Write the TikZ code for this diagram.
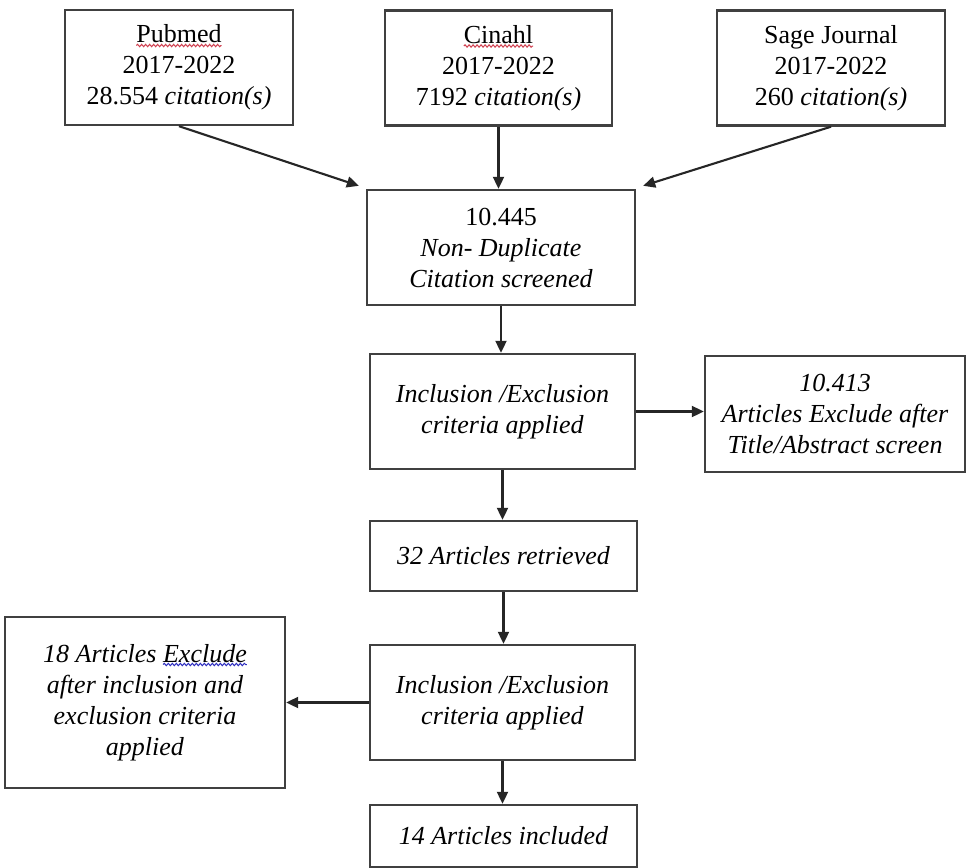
\documentclass[tikz,border=0pt]{standalone}
\usepackage{fontspec}
\setmainfont{Liberation Serif}
\usetikzlibrary{arrows.meta,calc,decorations.pathmorphing}
\definecolor{boxgray}{HTML}{404040}
\definecolor{squigred}{HTML}{D04050}
\definecolor{squigblue}{HTML}{3030C0}
\newcommand\bigf{\fontsize{26}{31}\selectfont}
\newlength\lenpub
\newlength\lencin
\newlength\lenexw
\newlength\lenexl
\begin{document}
\settowidth{\lenpub}{\bigf Pubmed}%
\settowidth{\lencin}{\bigf Cinahl}%
\settowidth{\lenexw}{\bigf\itshape Exclude}%
\settowidth{\lenexl}{\bigf\itshape 18 Articles Exclude}%
\begin{tikzpicture}[x=1pt,y=-1pt,
  box/.style={draw=boxgray, line width=2.4pt, fill=white, align=center, inner sep=0pt,
    font=\bigf},
  arr/.style={-{Triangle[length=12pt,width=11pt]}, line width=2.1pt, black!85},
  squig/.style={line width=1pt, decorate, decoration={snake, amplitude=1.2pt, segment length=4pt}}]
\useasboundingbox (0,0) rectangle (970,868);
\node[box, minimum width=228pt, minimum height=115pt] (pub) at (179,67.5)
  {Pubmed\\2017-2022\\28.554 \textit{citation(s)}};
\node[box, minimum width=227pt, minimum height=115pt] (cin) at (498.5,68)
  {Cinahl\\2017-2022\\7192 \textit{citation(s)}};
\node[box, minimum width=228pt, minimum height=115pt] (sage) at (831,68)
  {Sage Journal\\2017-2022\\260 \textit{citation(s)}};
\node[box, minimum width=268pt, minimum height=115pt] (dup) at (501,247.5)
  {10.445\\\textit{Non- Duplicate}\\\textit{Citation screened}};
\node[box, minimum width=265pt, minimum height=115pt] (inc1) at (502.5,411.5)
  {\textit{Inclusion /Exclusion}\\\textit{criteria applied}};
\node[box, minimum width=260pt, minimum height=116pt] (exc1) at (835,414)
  {\textit{10.413}\\\textit{Articles Exclude after}\\\textit{Title/Abstract screen}};
\node[box, minimum width=267pt, minimum height=70pt] (ret) at (503.5,556)
  {\textit{32 Articles retrieved}};
\node[box, minimum width=265pt, minimum height=115pt] (inc2) at (502.5,702.5)
  {\textit{Inclusion /Exclusion}\\\textit{criteria applied}};
\node[box, minimum width=280pt, minimum height=171pt] (exc2) at (145,702.5)
  {\textit{18 Articles Exclude}\\\textit{after inclusion and}\\\textit{exclusion criteria}\\\textit{applied}};
\node[box, minimum width=267pt, minimum height=62pt] (incl) at (503.5,836)
  {\textit{14 Articles included}};
% spell-check squiggles
\coordinate (pubA) at ($(pub.center)+(-0.5\lenpub,-22)$);
\coordinate (pubB) at ($(pub.center)+(0.5\lenpub,-22)$);
\coordinate (cinA) at ($(cin.center)+(-0.5\lencin,-22)$);
\coordinate (cinB) at ($(cin.center)+(0.5\lencin,-22)$);
\coordinate (exA) at ($(exc2.center)+(0.5\lenexl-\lenexw,-38)$);
\coordinate (exB) at ($(exc2.center)+(0.5\lenexl,-38)$);
\draw[squig, squigred] (pubA) -- (pubB);
\draw[squig, squigred] (cinA) -- (cinB);
\draw[squig, squigblue] (exA) -- (exB);
% connectors
\draw[arr] (pub.south) -- ($(dup.north west)+(-7,-3)$);
\draw[arr] (cin.south) -- (cin.south |- dup.north);
\draw[arr] (sage.south) -- ($(dup.north east)+(7,-3)$);
\draw[arr] (dup.south) -- (dup.south |- inc1.north);
\draw[arr] (inc1.east) -- (inc1.east -| exc1.west);
\draw[arr] (inc1.south) -- (inc1.south |- ret.north);
\draw[arr] (ret.south) -- (ret.south |- inc2.north);
\draw[arr] (inc2.west) -- (inc2.west -| exc2.east);
\draw[arr] (inc2.south) -- (inc2.south |- incl.north);
\end{tikzpicture}
\end{document}
